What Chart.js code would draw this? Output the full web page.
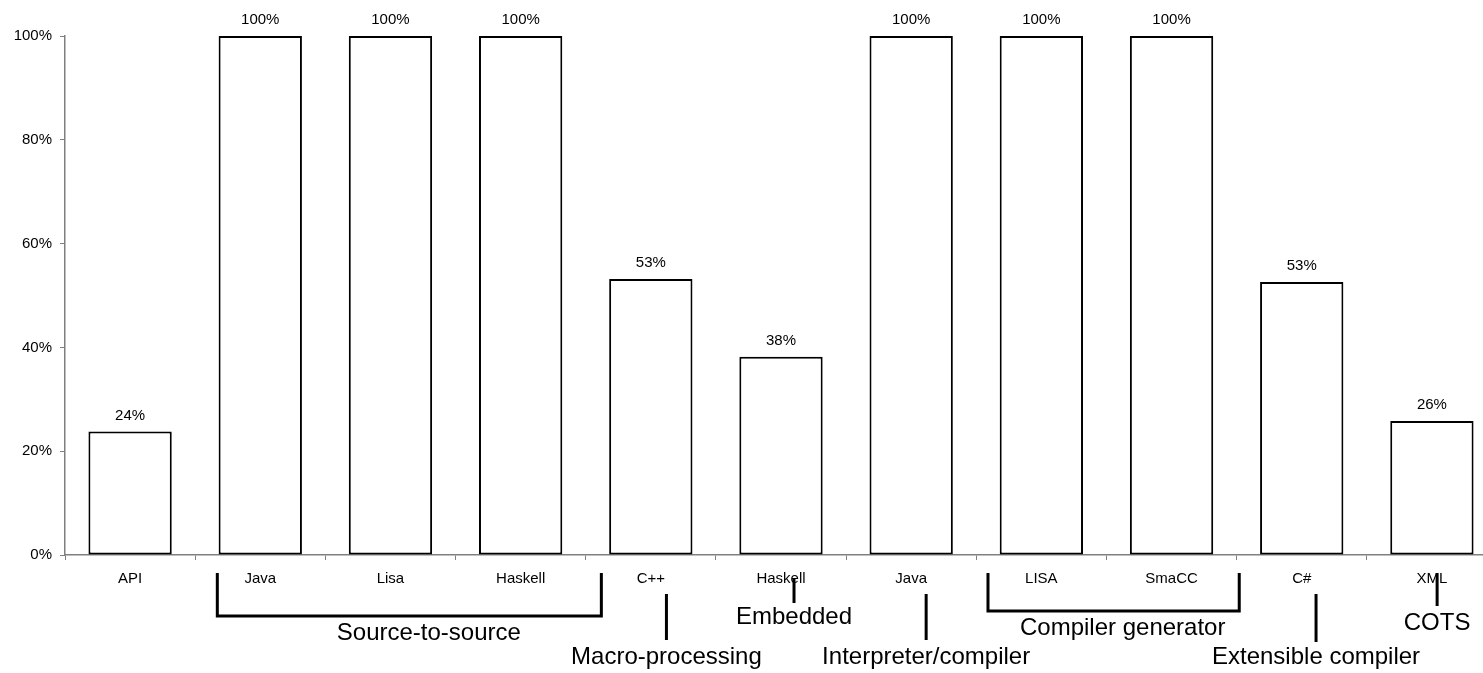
<!DOCTYPE html>
<html>
<head>
<meta charset="utf-8">
<script src="https://cdn.jsdelivr.net/npm/chart.js@4/dist/chart.umd.min.js"></script>
<style>
  html, body { margin: 0; padding: 0; background: #fff; overflow: hidden; }
  #wrap { width: 1500px; height: 673px; position: relative; }
</style>
</head>
<body>
<div id="wrap"><canvas id="chart"></canvas></div>
<script>
// categories along the x axis
var categories = ['API', 'Java', 'Lisa', 'Haskell', 'C++', 'Haskell', 'Java', 'LISA', 'SmaCC', 'C#', 'XML'];
// share per category, in percent
var shares = [23.8, 100, 100, 100, 53.2, 38.2, 100, 100, 100, 52.6, 25.8];
// y tick values
var yTicks = [0, 20, 40, 60, 80, 100];
// groups under the axis: name, first and last category index
var groupNames = ['Source-to-source', 'Macro-processing', 'Embedded', 'Interpreter/compiler', 'Compiler generator', 'Extensible compiler', 'COTS'];
var groupFrom = [1, 4, 5, 6, 7, 9, 10];
var groupTo = [3, 4, 5, 6, 8, 9, 10];

// drawing style of each group marker (offsets in category widths, y in px)
var groupStyle = [
    { kind: 'bracket', left: -0.33, right: 0.62, top: 573, bottom: 616, textDx: 0.15, textY: 633 },
    { kind: 'line', dx: 0.12, top: 594, bottom: 640, textY: 657 },
    { kind: 'line', dx: 0.10, top: 579, bottom: 603, textY: 617 },
    { kind: 'line', dx: 0.115, top: 594, bottom: 640, textY: 657 },
    { kind: 'bracket', left: -0.41, right: 0.52, top: 573, bottom: 611, textDx: 0.07, textY: 628 },
    { kind: 'line', dx: 0.11, top: 594, bottom: 642, textY: 657 },
    { kind: 'line', dx: 0.04, top: 573, bottom: 606, textY: 623 }
];

var FONT = '"Liberation Sans", Arial, sans-serif';

var valueLabels = {
    id: 'valueLabels',
    afterDatasetsDraw: function (chart) {
        var ctx = chart.ctx;
        var meta = chart.getDatasetMeta(0);
        ctx.save();
        ctx.font = '15px ' + FONT;
        ctx.fillStyle = '#000';
        ctx.textAlign = 'center';
        ctx.textBaseline = 'middle';
        meta.data.forEach(function (bar, i) {
            ctx.fillText(Math.round(shares[i]) + '%', bar.x, bar.y - 16);
        });
        ctx.restore();
    }
};

var groupMarkers = {
    id: 'groupMarkers',
    afterDraw: function (chart) {
        var ctx = chart.ctx;
        var x = chart.scales.x;
        var w = x.getPixelForValue(1) - x.getPixelForValue(0);
        ctx.save();
        ctx.strokeStyle = '#000';
        ctx.lineWidth = 3;
        ctx.lineCap = 'butt';
        ctx.fillStyle = '#000';
        ctx.font = '24px ' + FONT;
        ctx.textAlign = 'center';
        ctx.textBaseline = 'middle';
        groupNames.forEach(function (name, g) {
            var s = groupStyle[g];
            var a = x.getPixelForValue(groupFrom[g]);
            var b = x.getPixelForValue(groupTo[g]);
            var tx;
            ctx.beginPath();
            if (s.kind === 'bracket') {
                var l = a + s.left * w, r = b + s.right * w;
                ctx.moveTo(l, s.top);
                ctx.lineTo(l, s.bottom);
                ctx.lineTo(r, s.bottom);
                ctx.lineTo(r, s.top);
                tx = (l + r) / 2 + s.textDx * w;
            } else {
                var lx = a + s.dx * w;
                ctx.moveTo(lx, s.top);
                ctx.lineTo(lx, s.bottom);
                tx = lx;
            }
            ctx.stroke();
            ctx.fillText(name, tx, s.textY);
        });
        ctx.restore();
    }
};

var ctx = document.getElementById('chart').getContext('2d');
var chart = new Chart(ctx, {
    type: 'bar',
    data: {
        labels: categories,
        datasets: [{
            data: shares,
            backgroundColor: '#ffffff',
            borderColor: '#000000',
            borderWidth: 2,
            borderSkipped: false,
            barPercentage: 0.64,
            categoryPercentage: 1
        }]
    },
    options: {
        responsive: true,
        maintainAspectRatio: false,
        animation: false,
        layout: { padding: { top: 36, right: 3, left: 0, bottom: 0 } },
        plugins: {
            legend: { display: false },
            tooltip: { enabled: false }
        },
        scales: {
            x: {
                offset: true,
                grid: {
                    offset: true,
                    drawOnChartArea: false,
                    drawTicks: true,
                    tickLength: 5,
                    color: '#808080',
                    lineWidth: 1
                },
                border: { color: '#808080', width: 1.5 },
                ticks: {
                    color: '#000',
                    font: { family: FONT, size: 15 },
                    padding: 10,
                    maxRotation: 0,
                    autoSkip: false
                },
                afterFit: function (s) { s.height = 118; }
            },
            y: {
                min: 0,
                max: 100,
                afterBuildTicks: function (s) {
                    s.ticks = yTicks.map(function (v) { return { value: v }; });
                },
                grid: {
                    drawOnChartArea: false,
                    drawTicks: true,
                    tickLength: 5,
                    color: '#808080',
                    lineWidth: 1
                },
                border: { color: '#808080', width: 1.5 },
                ticks: {
                    color: '#000',
                    font: { family: FONT, size: 15 },
                    padding: 8,
                    callback: function (v) { return v + '%'; }
                },
                afterFit: function (s) { s.width = 65; }
            }
        }
    },
    plugins: [valueLabels, groupMarkers]
});
</script>
</body>
</html>
